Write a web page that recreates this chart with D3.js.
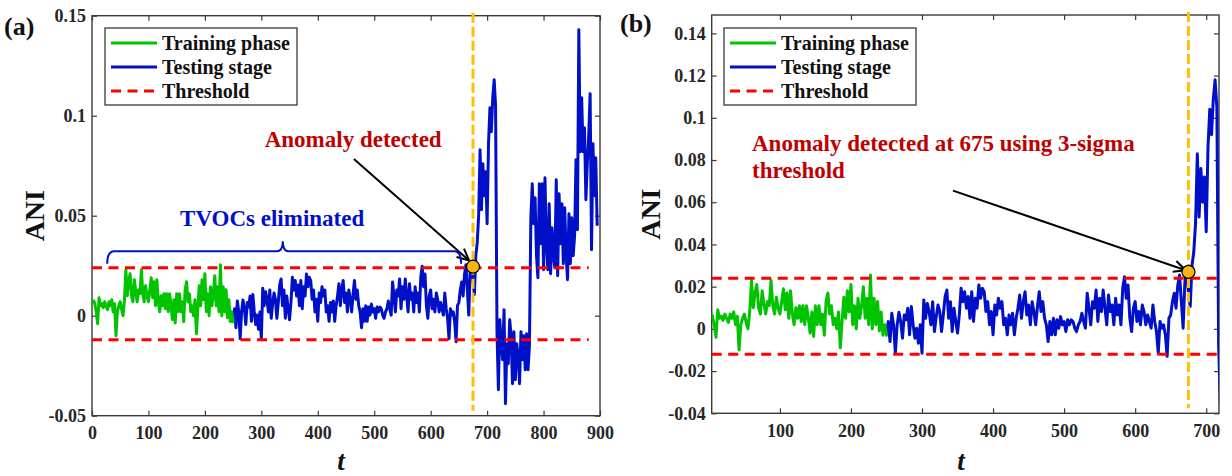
<!DOCTYPE html>
<html>
<head>
<meta charset="utf-8">
<script src="https://cdn.jsdelivr.net/npm/d3@7"></script>
<style>
    body { margin: 0; background: #fff; }
    svg text { font-family: "Liberation Serif", "Times New Roman", serif; font-weight: bold; }
</style>
</head>
<body>
<svg id="chart" width="1232" height="476"></svg>
<script>
// ANI values, one every 2.5 samples
const trainANI = [
    0.008, 0.006, 0.002, -0.004, 0.009, 0.005, 0.006, 0.004, 0.007, 0.005,
    0.003, 0.007, 0.005, 0.008, 0.002, 0.006, -0.010, 0.002, 0.005, 0.007,
    0.003, 0.000, 0.008, 0.023, 0.010, 0.017, 0.021, 0.010, 0.007, 0.018,
    0.012, 0.007, 0.013, 0.011, 0.023, 0.011, 0.007, 0.015, 0.010, 0.007,
    0.013, 0.019, 0.009, 0.017, 0.005, 0.018, 0.007, 0.002, 0.010, 0.005,
    0.011, 0.0035, 0.011, 0.002, 0.011, 0.005, -0.002, 0.008, -0.0036, 0.011,
    0.002, 0.011, 0.002, 0.007, -0.003, 0.013, 0.017, 0.007, 0.011, 0.002,
    0.005, 0.000, 0.008, -0.009, 0.0035, 0.015, 0.005, 0.018, 0.008, 0.021,
    0.002, 0.011, 0.000, 0.0145, 0.005, 0.011, 0.020, 0.005, 0.0145, 0.002,
    0.0255, 0.000, 0.0145, 0.002, 0.013, -0.001, 0.008, -0.003, 0.002, -0.003
];
const testANI = [
    // t = 250 ... 482.5
    -0.0028, 0.0035, -0.006, 0.0074, 0.0019, -0.0115, 0.0019, 0.0079, 0.0035, -0.0044,
    0.0066, 0.0043, 0.0098, -0.0028, 0.0106, 0.0019, -0.0044, 0.0003, -0.0068, 0.0019,
    -0.0115, 0.0137, 0.005, 0.012, 0.0082, 0.0019, 0.0129, -0.0013, 0.0058, 0.0113,
    0.0082, -0.0013, 0.0066, 0.0153, 0.0184, 0.005, 0.0129, -0.0013, 0.0098, 0.0035,
    -0.002, 0.0066, 0.0192, 0.0129, 0.0176, 0.0098, 0.0153, 0.005, 0.0176, 0.0035,
    0.0145, 0.0098, 0.0208, 0.0145, 0.0192, 0.0176, 0.0082, 0.0129, 0.0019, 0.0082,
    -0.0028, 0.0113, 0.0066, 0.0145, 0.0098, 0.0129, 0.0019, 0.005, -0.0028, 0.0066,
    0.0019, 0.0074, -0.0028, 0.005, 0.0098, 0.016, 0.005, 0.0129, 0.0176, 0.0066,
    0.0113, 0.0019, 0.0129, 0.0082, 0.0019, 0.0106, 0.0176, 0.0082, 0.0129, 0.005,
    0.0019, -0.006, 0.0035, -0.0028,
    // t = 485 ... 682.5
    0.005, -0.0028, 0.0043, 0.0003, 0.0058, 0.0019, 0.0035, -0.0013, 0.0043, 0.0019,
    0.0043, 0.0035, 0.0003, -0.0013, 0.0019, 0.0035, 0.0074, 0.0035, 0.0003, 0.0169,
    0.0098, 0.0019, 0.0129, 0.0098, 0.0184, 0.0035, 0.0145, 0.0082, 0.0184, 0.0098,
    0.0019, 0.016, 0.0082, 0.0113, 0.0019, 0.0145, 0.0066, 0.0113, 0.0019, 0.0192,
    0.0247, 0.0145, 0.0208, 0.005, -0.0013, 0.0098, 0.0129, 0.0035, 0.0082, 0.0019,
    0.0113, 0.0082, 0.0019, 0.0066, 0.0035, 0.0003, 0.0113, 0.0035, -0.0013, -0.0115,
    0.0035, 0.0003, 0.0019, -0.0028, -0.013, 0.005, 0.0066, 0.0129, 0.0169, 0.0098,
    0.0208, 0.0255, 0.0129, 0.0003, 0.0224, 0.027, 0.0176, 0.0106, 0.030, 0.0365,
    // t = 685 ... 895
    0.050, 0.083, 0.053, 0.076, 0.060, 0.072, 0.046, 0.086, 0.104, 0.092,
    0.109, 0.118, 0.105, -0.008, -0.037, -0.002, -0.014, -0.022, 0.003, -0.044,
    -0.014, -0.024, -0.002, -0.010, -0.034, -0.008, -0.032, -0.014, -0.020, -0.034,
    -0.008, -0.022, -0.010, -0.027, -0.009, -0.027, -0.015, 0.049, 0.066, 0.046,
    0.059, 0.030, 0.019, 0.066, 0.036, 0.066, 0.023, 0.069, 0.036, 0.023,
    0.056, 0.021, 0.044, 0.030, 0.024, 0.068, 0.020, 0.061, 0.036, 0.056,
    0.026, 0.054, 0.030, 0.018, 0.051, 0.026, 0.049, 0.030, 0.040, 0.078,
    0.043, 0.143, 0.082, 0.109, 0.082, 0.094, 0.058, 0.076, 0.090, 0.111,
    0.033, 0.086, 0.060, 0.079, 0.045
];
const sampleStep = 2.5;
const trainStart = 2.5;
const testStart = 250;

const thresholdUpper = 0.024;
const thresholdLower = -0.012;
const detectT = 675;

const legendLabels = ["Training phase", "Testing stage", "Threshold"];

const xTicksA = [0, 100, 200, 300, 400, 500, 600, 700, 800, 900];
const yTicksA = [-0.05, 0, 0.05, 0.1, 0.15];
const yTickLabelsA = ["-0.05", "0", "0.05", "0.1", "0.15"];
const xTicksB = [100, 200, 300, 400, 500, 600, 700];
const yTicksB = [-0.04, -0.02, 0, 0.02, 0.04, 0.06, 0.08, 0.1, 0.12, 0.14];
const yTickLabelsB = ["-0.04", "-0.02", "0", "0.02", "0.04", "0.06", "0.08", "0.1", "0.12", "0.14"];

const colors = { train: "#00c400", test: "#0010c8", thr: "#ff0000", det: "#ffc000", dot: "#f8b512", axis: "#3a3a3a", red: "#c00000" };

const trainData = trainANI.map((v, i) => ({ t: trainStart + i * sampleStep, v }));
const testData = testANI.map((v, i) => ({ t: testStart + i * sampleStep, v }));

const svg = d3.select("#chart");

const panels = [
    {
        id: "a", tag: "(a)", tagPos: [4, 35],
        x: d3.scaleLinear().domain([0, 900]).range([92, 600]),
        y: d3.scaleLinear().domain([-0.05, 0.15]).range([415.7, 15.7]),
        xTicks: xTicksA, yTicks: yTicksA, yTickLabels: yTickLabelsA,
        thrRange: [0, 880], dotV: 0.0245,
        yLabelX: 44, xLabelX: 341,
        legend: [105, 28]
    },
    {
        id: "b", tag: "(b)", tagPos: [620, 32],
        x: d3.scaleLinear().domain([4, 718]).range([711.7, 1219]),
        y: d3.scaleLinear().domain([-0.04, 0.1487]).range([413.3, 15]),
        xTicks: xTicksB, yTicks: yTicksB, yTickLabels: yTickLabelsB,
        thrRange: [4, 718], dotV: 0.027,
        yLabelX: 660, xLabelX: 961,
        legend: [724, 28]
    }
];

const drawArrow = (g, x1, y1, x2, y2) => {
    const ang = Math.atan2(y2 - y1, x2 - x1);
    const len = 13, spread = 0.45;
    g.append("line").attr("x1", x1).attr("y1", y1).attr("x2", x2).attr("y2", y2)
        .attr("stroke", "#000").attr("stroke-width", 2);
    [ang + Math.PI - spread, ang + Math.PI + spread].forEach(a => {
        g.append("line").attr("x1", x2).attr("y1", y2)
            .attr("x2", x2 + len * Math.cos(a)).attr("y2", y2 + len * Math.sin(a))
            .attr("stroke", "#000").attr("stroke-width", 2);
    });
};

panels.forEach(p => {
    const g = svg.append("g");
    const [x0, x1] = p.x.range();
    const [yBot, yTop] = p.y.range();

    // clip so panel (b) cuts the series at its x limit
    g.append("clipPath").attr("id", `clip-${p.id}`)
        .append("rect").attr("x", x0).attr("y", yTop).attr("width", x1 - x0).attr("height", yBot - yTop);

    // axes, MATLAB box style with inward ticks
    g.append("g").attr("transform", `translate(0,${yBot})`)
        .call(d3.axisBottom(p.x).tickValues(p.xTicks).tickFormat(d3.format("d")).tickSizeInner(-5).tickSizeOuter(0).tickPadding(11));
    g.append("g").attr("transform", `translate(0,${yTop})`)
        .call(d3.axisTop(p.x).tickValues(p.xTicks).tickFormat("").tickSizeInner(-5).tickSizeOuter(0));
    g.append("g").attr("transform", `translate(${x0},0)`)
        .call(d3.axisLeft(p.y).tickValues(p.yTicks).tickFormat((d, i) => p.yTickLabels[i]).tickSizeInner(-5).tickSizeOuter(0).tickPadding(6));
    g.append("g").attr("transform", `translate(${x1},0)`)
        .call(d3.axisRight(p.y).tickValues(p.yTicks).tickFormat("").tickSizeInner(-5).tickSizeOuter(0));
    g.selectAll(".domain").remove();
    g.selectAll(".tick line").attr("stroke", colors.axis).attr("stroke-width", 1.2);
    g.selectAll(".tick text").attr("fill", "#262626").attr("font-size", 18)
        .attr("font-family", "Liberation Serif").attr("font-weight", "bold");
    g.append("rect").attr("x", x0).attr("y", yTop).attr("width", x1 - x0).attr("height", yBot - yTop)
        .attr("fill", "none").attr("stroke", colors.axis).attr("stroke-width", 1.4);

    const plot = g.append("g").attr("clip-path", `url(#clip-${p.id})`);
    const line = d3.line().x(d => p.x(d.t)).y(d => p.y(d.v));
    plot.append("path").datum(testData).attr("d", line)
        .attr("fill", "none").attr("stroke", colors.test).attr("stroke-width", 3).attr("stroke-linejoin", "round");
    plot.append("path").datum(trainData.concat([testData[0]])).attr("d", line)
        .attr("fill", "none").attr("stroke", colors.train).attr("stroke-width", 3).attr("stroke-linejoin", "round");

    [thresholdUpper, thresholdLower].forEach(th => {
        plot.append("line")
            .attr("x1", p.x(p.thrRange[0])).attr("x2", p.x(p.thrRange[1]))
            .attr("y1", p.y(th)).attr("y2", p.y(th))
            .attr("stroke", colors.thr).attr("stroke-width", 3).attr("stroke-dasharray", "10,6.5");
    });

    g.append("line").attr("x1", p.x(detectT)).attr("x2", p.x(detectT))
        .attr("y1", yTop - 3).attr("y2", yBot - 5)
        .attr("stroke", colors.det).attr("stroke-width", 3).attr("stroke-dasharray", "10,4");

    // legend
    const [lx, ly] = p.legend;
    const lg = g.append("g").attr("transform", `translate(${lx},${ly})`);
    lg.append("rect").attr("width", 192).attr("height", 77).attr("fill", "#fff")
        .attr("stroke", colors.axis).attr("stroke-width", 1.3);
    const legendStyles = [
        { c: colors.train, dash: null },
        { c: colors.test, dash: null },
        { c: colors.thr, dash: "10,6.5" }
    ];
    legendLabels.forEach((label, i) => {
        const yy = 15 + i * 24;
        lg.append("line").attr("x1", 6).attr("x2", 52).attr("y1", yy).attr("y2", yy)
            .attr("stroke", legendStyles[i].c).attr("stroke-width", 3)
            .attr("stroke-dasharray", legendStyles[i].dash);
        lg.append("text").attr("x", 57).attr("y", yy + 7).attr("font-size", 20).attr("fill", "#111").text(label);
    });

    // panel tag and axis titles
    g.append("text").attr("x", p.tagPos[0]).attr("y", p.tagPos[1]).attr("font-size", 26).attr("fill", "#111").text(p.tag);
    g.append("text").attr("transform", `translate(${p.yLabelX},${(yTop + yBot) / 2}) rotate(-90)`)
        .attr("text-anchor", "middle").attr("font-size", 28).attr("fill", "#111").text("ANI");
    g.append("text").attr("x", p.xLabelX).attr("y", 470).attr("text-anchor", "middle")
        .attr("font-size", 27).attr("font-style", "italic").attr("fill", "#111").text("t");

    p.g = g;
});

// annotations of panel (a)
{
    const p = panels[0], g = p.g, x = p.x, y = p.y;
    g.append("text").attr("x", x(306)).attr("y", y(0.0844)).attr("font-size", 23).attr("fill", colors.red).text("Anomaly detected");
    drawArrow(g, x(464), y(0.0784), x(668), y(0.0276));
    g.append("text").attr("x", x(156)).attr("y", y(0.0449)).attr("font-size", 23).attr("fill", colors.test).text("TVOCs eliminated");
    const bl = x(27), br = x(654), bm = x(338);
    const yb = y(0.026), yt = y(0.0322), yp = y(0.0372);
    g.append("path")
        .attr("d", `M${bl},${yb} Q${bl},${yt} ${bl + 7},${yt} L${bm - 6},${yt} Q${bm},${yt} ${bm},${yp} Q${bm},${yt} ${bm + 6},${yt} L${br - 7},${yt} Q${br},${yt} ${br},${yb}`)
        .attr("fill", "none").attr("stroke", colors.test).attr("stroke-width", 2);
}

// annotations of panel (b)
{
    const p = panels[1], g = p.g, x = p.x, y = p.y;
    g.append("text").attr("x", x(60.7)).attr("y", y(0.0843)).attr("font-size", 23).attr("fill", colors.red).text("Anomaly detected at 675 using 3-sigma");
    g.append("text").attr("x", x(60.7)).attr("y", y(0.0715)).attr("font-size", 23).attr("fill", colors.red).text("threshold");
    drawArrow(g, x(343.6), y(0.0655), x(671), y(0.0278));
}

// detected points drawn last
panels.forEach(p => {
    p.g.append("circle").attr("cx", p.x(detectT)).attr("cy", p.y(p.dotV)).attr("r", 6.5)
        .attr("fill", colors.dot).attr("stroke", "#000").attr("stroke-width", 1.2);
});
</script>
</body>
</html>
